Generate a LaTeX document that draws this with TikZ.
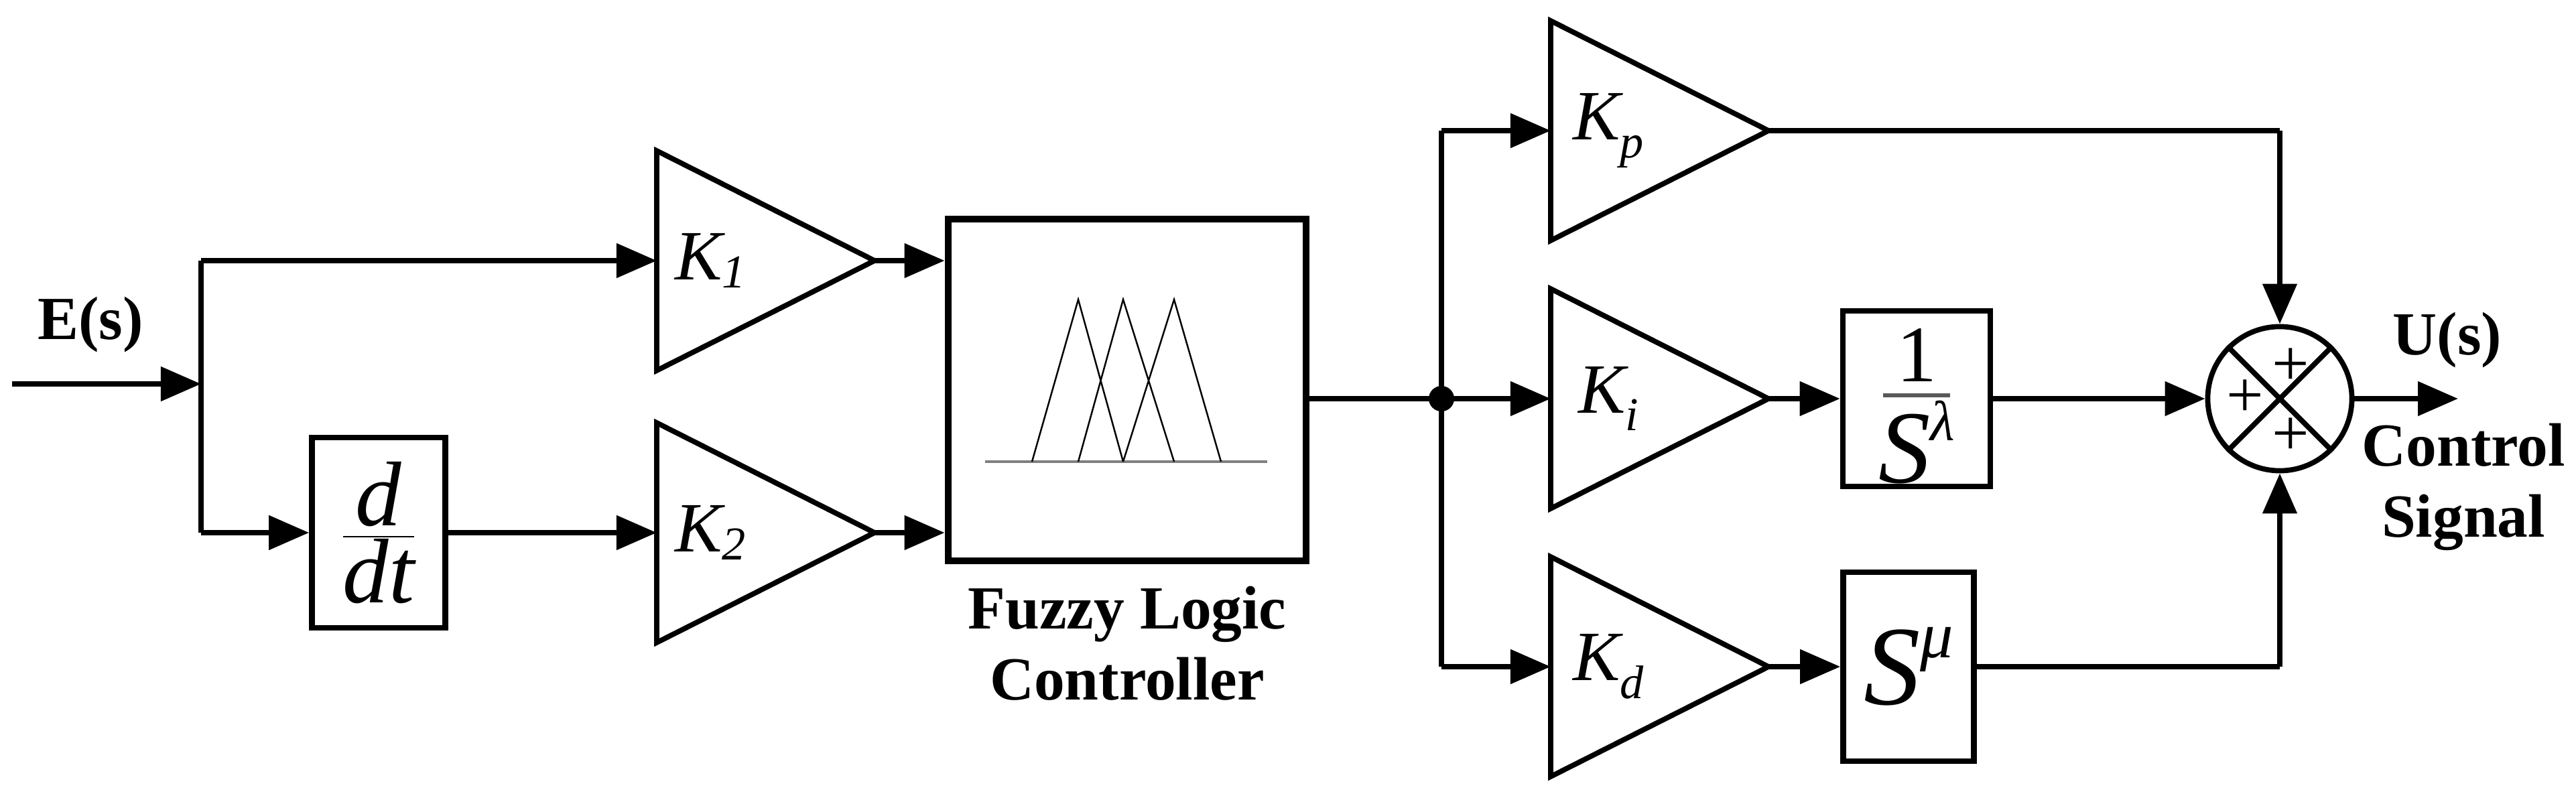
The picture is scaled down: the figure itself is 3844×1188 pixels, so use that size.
\documentclass[tikz,border=0pt]{standalone}
\usepackage{fontspec}
\setmainfont{Liberation Serif}
\usetikzlibrary{arrows.meta}
\begin{document}
\begin{tikzpicture}[x=0.01cm,y=-0.01cm,
  ln/.style={line width=2.3pt},
  ar/.style={ln,-{Triangle[length=0.6cm,width=0.5cm]}},
  gain/.style={line width=2.2pt,line join=miter},
  blk/.style={draw,line width=2.4pt,inner sep=0pt},
  lab/.style={font=\fontsize{26}{30}\selectfont\bfseries,align=center},
  gl/.style={font=\fontsize{30}{30}\selectfont\itshape}]
\useasboundingbox (0,0) rectangle (3844,1188);
% gains
\newcommand{\gainat}[3]{% name, left x, center y
  \draw[gain] (#2,#3-164) -- (#2+325,#3) -- (#2,#3+164) -- cycle;
  \coordinate (#1in) at (#2,#3); \coordinate (#1out) at (#2+325,#3);}
\gainat{ka}{980}{389}
\gainat{kb}{980}{795}
\gainat{kp}{2314}{195}
\gainat{ki}{2314}{595}
\gainat{kd}{2314}{995}
\node[gl] at (1060,389) {K\raisebox{-0.25ex}{\fontsize{20}{20}\selectfont 1}};
\node[gl] at (1060,795) {K\raisebox{-0.25ex}{\fontsize{20}{20}\selectfont 2}};
\node[gl] at (2400,195) {K\raisebox{-0.55ex}{\fontsize{20}{20}\selectfont p}};
\node[gl] at (2400,595) {K\raisebox{-0.55ex}{\fontsize{20}{20}\selectfont i}};
\node[gl] at (2400,995) {K\raisebox{-0.55ex}{\fontsize{20}{20}\selectfont d}};
% input
\coordinate (in) at (18,573);
\coordinate (j) at (300,573);
\coordinate (jt) at (300,389);
\coordinate (jb) at (300,795);
\node[lab] at (135,485) {E(s)};
\draw[ar] (in) -- (j);
\draw[ln] (jt) -- (jb);
\draw[ar] (jt) -- (kain);
% d/dt
\node[blk,minimum width=1.99cm,minimum height=2.84cm] (dd) at (565,795) {};
\node[font=\fontsize{30}{36}\selectfont\itshape] at (dd) {\scalebox{1.3}{$\frac{\mbox{\itshape d}}{\mbox{\itshape dt}}$}};
\draw[ar] (jb) -- (dd.west);
\draw[ar] (dd.east) -- (kbin);
% FLC
\node[draw,line width=3pt,minimum width=5.34cm,minimum height=5.1cm] (flc) at (1682,582) {};
\draw[ar] (kaout) -- (flc.west |- kaout);
\draw[ar] (kbout) -- (flc.west |- kbout);
\draw[gray,line width=1.2pt] (1470,689) -- (1891,689);
\draw[line width=0.7pt] (1540,689) -- (1609,447) -- (1676,689)
  (1609,689) -- (1676,447) -- (1752,689)
  (1676,689) -- (1752,447) -- (1822,689);
\node[lab] at (1682,960) {Fuzzy Logic\\Controller};
% fan-out
\coordinate (j2) at (2151,595);
\coordinate (j2t) at (2151,195);
\coordinate (j2b) at (2151,995);
\draw[ln] (flc.east |- j2) -- (j2);
\draw[ln] (j2t) -- (j2b);
\fill (j2) circle (19);
\draw[ar] (j2t) -- (kpin);
\draw[ar] (j2) -- (kiin);
\draw[ar] (j2b) -- (kdin);
% fractional blocks
\node[blk,minimum width=2.2cm,minimum height=2.62cm] (fi) at (2860,595) {};
\node[font=\fontsize{34}{34}\selectfont] at (2860,530) {1};
\draw[gray!70!black,line width=1.5pt] (2810,590) -- (2910,590);
\node[font=\fontsize{44}{44}\selectfont\itshape] at (2860,660) {S\raisebox{0.9ex}{\fontsize{24}{24}\selectfont λ}};
\node[blk,minimum width=1.95cm,minimum height=2.82cm] (fd) at (2848,995) {};
\node[font=\fontsize{48}{48}\selectfont\itshape] at (fd) {S\raisebox{0.9ex}{\fontsize{28}{28}\selectfont μ}};
\draw[ar] (kiout) -- (fi.west);
\draw[ar] (kdout) -- (fd.west);
% sum
\node[draw,circle,line width=2.2pt,minimum size=2.15cm,inner sep=0pt] (s) at (3402,595) {};
\draw[line width=2.2pt] (s.north west) -- (s.south east) (s.north east) -- (s.south west);
\node[font=\fontsize{28}{28}\selectfont] at (3418,548) {+};
\node[font=\fontsize{28}{28}\selectfont] at (3350,595) {+};
\node[font=\fontsize{28}{28}\selectfont] at (3418,652) {+};
\coordinate (c1) at (3402,195);
\coordinate (c2) at (3402,995);
\draw[ln] (kpout) -- (c1);
\draw[ar] (c1) -- (s.north);
\draw[ln] (fd.east) -- (c2);
\draw[ar] (c2) -- (s.south);
\draw[ar] (fi.east) -- (s.west);
\coordinate (out) at (3668,595);
\draw[ar] (s.east) -- (out);
\node[lab] at (3652,508) {U(s)};
\node[lab] at (3676,727) {Control\\Signal};
\end{tikzpicture}
\end{document}
